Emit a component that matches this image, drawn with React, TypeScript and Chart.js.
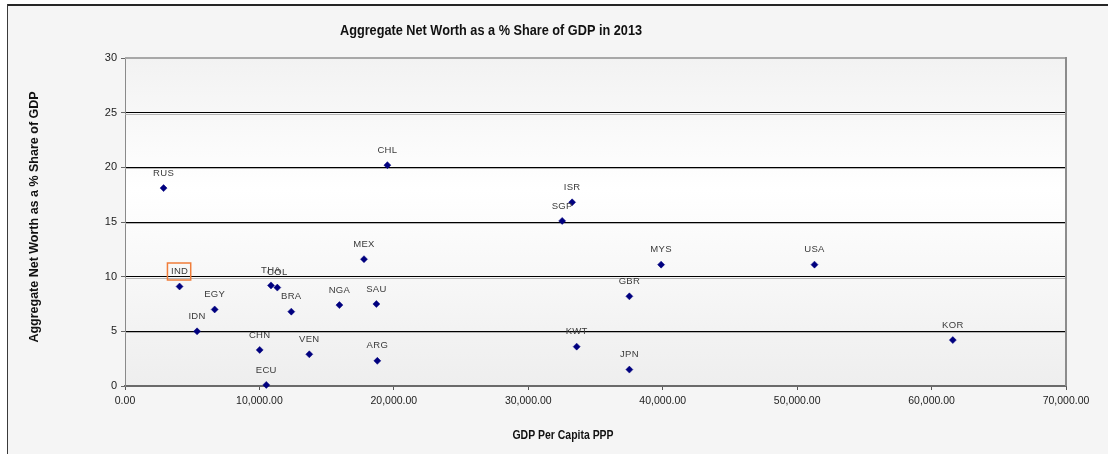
import React, { useEffect, useRef } from 'react';
import { Chart, registerables } from 'chart.js';

Chart.register(...registerables);

// Country codes, GDP per capita (PPP) and aggregate net worth as % of GDP, 2013
const countries = [
  'RUS', 'CHL', 'ISR', 'SGP', 'MEX', 'MYS', 'USA', 'IND', 'THA', 'COL', 'EGY', 'BRA',
  'NGA', 'SAU', 'GBR', 'IDN', 'KOR', 'CHN', 'VEN', 'KWT', 'ARG', 'JPN', 'ECU',
];
const gdpPerCapitaPPP = [
  2870, 19520, 33260, 32520, 17780, 39880, 51290, 4060, 10860, 11330, 6670, 12370,
  15950, 18700, 37520, 5360, 61580, 10020, 13710, 33600, 18770, 37520, 10510,
];
const netWorthSharePct = [
  18.1, 20.2, 16.8, 15.1, 11.6, 11.1, 11.1, 9.1, 9.2, 9.0, 7.0, 6.8,
  7.4, 7.5, 8.2, 5.0, 4.2, 3.3, 2.9, 3.6, 2.3, 1.5, 0.1,
];
const highlightedCountries = ['IND'];

const xAxisMax = 70000;
const xAxisStep = 10000;
const yAxisMax = 30;
const yAxisStep = 5;

const chartTitle = 'Aggregate Net Worth as a % Share of GDP in 2013';
const xAxisTitle = 'GDP Per Capita PPP';
const yAxisTitle = 'Aggregate Net Worth as a % Share of GDP';

const NARROW = "'Liberation Sans Narrow', 'Arial Narrow', 'Liberation Sans', sans-serif";
const SANS = "'Liberation Sans', Arial, sans-serif";

const W = 1108;
const H = 454;

// draws text squeezed horizontally, for a condensed look
function condensedText(ctx: CanvasRenderingContext2D, text: string, x: number, y: number, font: string, squeeze: number) {
  ctx.save();
  ctx.translate(x, y);
  ctx.scale(squeeze, 1);
  ctx.font = font;
  ctx.fillText(text, 0, 0);
  ctx.restore();
}

const framePlugin = {
  id: 'frame',
  beforeDraw(chart: any) {
    const { ctx, chartArea: a } = chart;
    ctx.save();
    ctx.fillStyle = '#ffffff';
    ctx.fillRect(0, 0, W, H);
    ctx.fillStyle = '#f5f5f5';
    ctx.fillRect(8, 6, W - 8, H - 6);
    // outer frame lines
    ctx.fillStyle = '#262626';
    ctx.fillRect(7, 4, W - 7, 2);
    ctx.fillStyle = '#3a3a3a';
    ctx.fillRect(7, 4, 1, H - 4);
    // plot background
    const g = ctx.createLinearGradient(0, a.top, 0, a.bottom);
    g.addColorStop(0, '#f2f2f2');
    g.addColorStop(0.4, '#ffffff');
    g.addColorStop(1, '#eeeeee');
    ctx.fillStyle = g;
    ctx.fillRect(a.left, a.top, a.right - a.left, a.bottom - a.top);

    // titles
    ctx.fillStyle = '#111111';
    ctx.textAlign = 'center';
    ctx.textBaseline = 'middle';
    condensedText(ctx, chartTitle, 491, 31, `bold 15.5px ${SANS}`, 0.82);
    condensedText(ctx, xAxisTitle, 563, 435, `bold 12.75px ${SANS}`, 0.82);
    ctx.translate(35, 217);
    ctx.rotate(-Math.PI / 2);
    ctx.font = `bold 12.5px ${SANS}`;
    ctx.fillText(yAxisTitle, 0, 0);
    ctx.restore();
  },
  beforeDatasetsDraw(chart: any) {
    const { ctx, chartArea: a, scales } = chart;
    const y = scales.y;
    ctx.save();
    ctx.fillStyle = '#b4b4b4';
    for (let v = yAxisStep; v < yAxisMax; v += yAxisStep) {
      const py = Math.round(y.getPixelForValue(v));
      ctx.fillRect(a.left, py + 1, a.right - a.left, 1);
    }
    // plot border (top and right)
    ctx.fillStyle = '#a8a8a8';
    ctx.fillRect(a.left, a.top - 1, a.right - a.left + 1, 2);
    ctx.fillStyle = '#8c8c8c';
    ctx.fillRect(a.right - 1, a.top - 1, 2, a.bottom - a.top + 1);
    ctx.restore();
  },
  afterDatasetsDraw(chart: any) {
    const { ctx } = chart;
    const meta = chart.getDatasetMeta(0);
    ctx.save();
    ctx.font = `9.5px ${NARROW}`;
    (ctx as any).letterSpacing = '0.3px';
    ctx.fillStyle = '#3a3a3a';
    ctx.textAlign = 'center';
    ctx.textBaseline = 'middle';
    meta.data.forEach((pt: any, i: number) => {
      const name = countries[i];
      const lx = pt.x;
      const ly = pt.y - 15;
      ctx.fillText(name, lx, ly);
      if (highlightedCountries.includes(name)) {
        const w = ctx.measureText(name).width;
        ctx.strokeStyle = '#f07d3a';
        ctx.lineWidth = 1.5;
        ctx.strokeRect(lx - w / 2 - 3.5, ly - 8.5, w + 6, 17);
      }
    });
    ctx.restore();
  },
};

export default function App() {
  const ref = useRef<HTMLCanvasElement | null>(null);

  useEffect(() => {
    if (!ref.current) return;
    const points = countries.map((_, i) => ({ x: gdpPerCapitaPPP[i], y: netWorthSharePct[i] }));
    const chart = new Chart(ref.current, {
      type: 'scatter',
      data: {
        datasets: [
          {
            label: 'Countries',
            data: points,
            pointStyle: 'rectRot',
            pointRadius: 3.5,
            pointBackgroundColor: '#00007f',
            pointBorderColor: '#00007f',
            pointBorderWidth: 0.5,
            clip: false as any,
          },
        ],
      },
      options: {
        animation: false,
        responsive: false,
        devicePixelRatio: 1,
        layout: { padding: { left: 0, top: 58, right: 42, bottom: 0 } },
        plugins: {
          legend: { display: false },
          tooltip: { enabled: false },
          title: { display: false },
        },
        scales: {
          x: {
            type: 'linear',
            min: 0,
            max: xAxisMax,
            afterFit: (s: any) => {
              s.height = 68;
            },
            ticks: {
              stepSize: xAxisStep,
              padding: 5,
              color: '#222222',
              font: { family: NARROW, size: 10.5 },
              maxRotation: 0,
              callback: (v: any) =>
                Number(v).toLocaleString('en-US', { minimumFractionDigits: 2, maximumFractionDigits: 2 }),
            },
            grid: {
              drawOnChartArea: false,
              drawTicks: true,
              tickLength: 4,
              tickColor: '#555555',
            },
            border: { display: true, color: '#6a6a6a', width: 2 },
          },
          y: {
            type: 'linear',
            min: 0,
            max: yAxisMax,
            afterFit: (s: any) => {
              s.width = 125;
            },
            ticks: {
              stepSize: yAxisStep,
              padding: 4,
              color: '#222222',
              font: { family: NARROW, size: 11 },
            },
            grid: {
              drawTicks: true,
              tickLength: 4,
              tickColor: '#666666',
              lineWidth: 1,
              color: (c: any) => {
                const v = c.tick ? c.tick.value : 0;
                if (v === 0 || v === yAxisMax) return 'rgba(0,0,0,0)';
                return '#000000';
              },
            },
            border: { display: true, color: '#8a8a8a', width: 1 },
          },
        },
      },
      plugins: [framePlugin],
    });
    return () => chart.destroy();
  }, []);

  return (
    <div style={{ position: 'fixed', left: 0, top: 0, width: W, height: H }}>
      <canvas ref={ref} width={W} height={H} style={{ display: 'block', width: W, height: H }} />
    </div>
  );
}
